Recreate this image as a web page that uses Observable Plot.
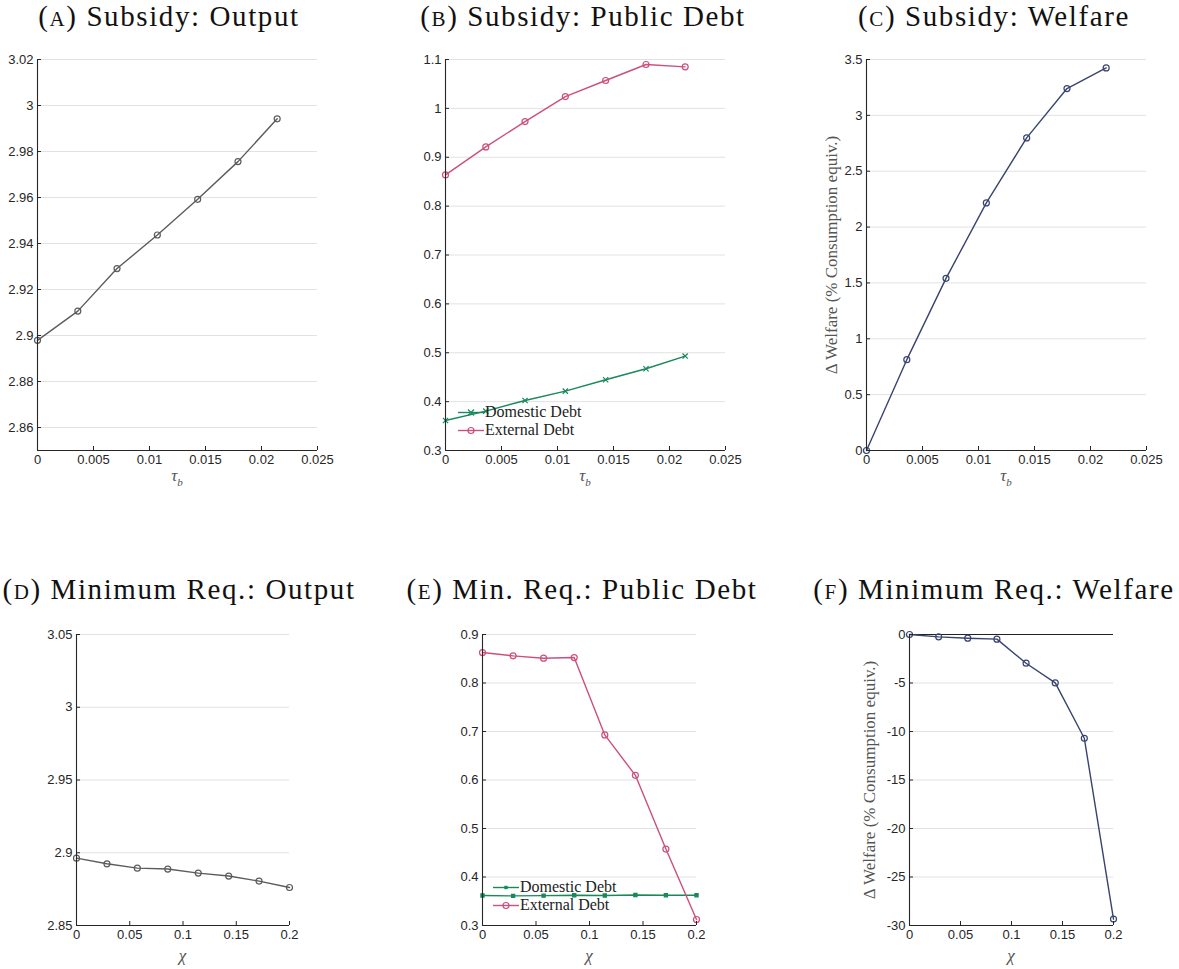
<!DOCTYPE html>
<html><head><meta charset="utf-8">
<script src="https://cdn.jsdelivr.net/npm/d3@7"></script>
<script src="https://cdn.jsdelivr.net/npm/@observablehq/plot@0.6"></script>
<style>
body{margin:0;background:#fff;}
#root{position:relative;width:1179px;height:969px;overflow:hidden;background:#fff;}
.title{position:absolute;font-family:"Liberation Serif",serif;font-size:29px;line-height:normal;letter-spacing:1.6px;color:#111;white-space:nowrap;text-align:center;width:420px;margin-left:-210px;}
.sc{font-size:21px;}
.xlab{position:absolute;font-family:"Liberation Serif",serif;font-style:italic;font-size:17px;color:#555;transform:translate(-50%,-50%);white-space:nowrap;}
.xlab sub{font-size:11px;}
.ylab{position:absolute;font-family:"Liberation Serif",serif;font-size:17px;color:#555;white-space:nowrap;transform:translate(-50%,-50%) rotate(-90deg);}
.plot{position:absolute;}
.legend{position:absolute;font-family:"Liberation Serif",serif;font-size:16px;color:#222;}
.legend .row{display:flex;align-items:center;height:18px;}
.legend svg{display:block;margin-right:1px;}
</style></head><body><div id="root"></div>
<script>
// ---- data ----
const tauB = [0, 0.0036, 0.0071, 0.0107, 0.0143, 0.0179, 0.0214];
const outputSubsidy = [2.8979, 2.9106, 2.9291, 2.9437, 2.9592, 2.9756, 2.9942];
const domDebtSubsidy = [0.3614, 0.3805, 0.4024, 0.4215, 0.4447, 0.4672, 0.4932];
const extDebtSubsidy = [0.8638, 0.9212, 0.9730, 1.0242, 1.0570, 1.0898, 1.0850];
const welfareSubsidy = [0, 0.813, 1.541, 2.216, 2.798, 3.240, 3.425];

const chi = [0, 0.0286, 0.0571, 0.0857, 0.1143, 0.1429, 0.1714, 0.2];
const outputMinReq = [2.8963, 2.8924, 2.8894, 2.8888, 2.8860, 2.8840, 2.8805, 2.8761];
const domDebtMinReq = [0.362, 0.361, 0.3615, 0.3625, 0.362, 0.363, 0.3625, 0.3625];
const extDebtMinReq = [0.8628, 0.8560, 0.8511, 0.8525, 0.6929, 0.6096, 0.4576, 0.3124];
const welfareMinReq = [0, -0.24, -0.38, -0.48, -2.96, -4.99, -10.70, -29.34];

// ---- ticks / domains ----
const xTicksTau = [0, 0.005, 0.01, 0.015, 0.02, 0.025];
const xTicksChi = [0, 0.05, 0.1, 0.15, 0.2];
const yTicksA = [2.86, 2.88, 2.9, 2.92, 2.94, 2.96, 2.98, 3, 3.02];
const yTicksB = [0.3, 0.4, 0.5, 0.6, 0.7, 0.8, 0.9, 1, 1.1];
const yTicksC = [0, 0.5, 1, 1.5, 2, 2.5, 3, 3.5];
const yTicksD = [2.85, 2.9, 2.95, 3, 3.05];
const yTicksE = [0.3, 0.4, 0.5, 0.6, 0.7, 0.8, 0.9];
const yTicksF = [-30, -25, -20, -15, -10, -5, 0];
const domA = [2.85, 3.02], domB = [0.3, 1.1], domC = [0, 3.5];
const domD = [2.85, 3.05], domE = [0.3, 0.9], domF = [-30, 0];
const domTau = [0, 0.025], domChi = [0, 0.2];

const titles = ["Subsidy: Output", "Subsidy: Public Debt", "Subsidy: Welfare",
  "Minimum Req.: Output", "Min. Req.: Public Debt", "Minimum Req.: Welfare"];
const letters = ["A", "B", "C", "D", "E", "F"];
const legendNames = ["Domestic Debt", "External Debt"];
const yLabel = "Δ Welfare (% Consumption equiv.)";

const GRAY = "#5c5c5c", PINK = "#cc4f7e", GREEN = "#18895a", NAVY = "#38446f";

const fmt = d => String(+d.toFixed(6));
const zipXY = (xs, ys) => xs.map((x, i) => ({x, y: ys[i]}));
const root = document.getElementById("root");

function panel(o) {
  const mL = 45, mR = 22, mT = 10, mB = 28;
  const w = o.right - o.left, h = o.bottom - o.top;
  const marks = [
    Plot.gridY(o.yTicks, {stroke: "#e2e2e2", strokeOpacity: 1, strokeWidth: 1})
  ];
  if (o.zeroRule) marks.push(Plot.ruleY([0], {stroke: "#222", strokeWidth: 1.1}));
  for (const s of o.series) {
    const data = zipXY(s.x, s.y);
    marks.push(Plot.line(data, {x: "x", y: "y", stroke: s.color, strokeWidth: 1.4}));
    marks.push(Plot.dot(data, {x: "x", y: "y", r: s.r || 3, symbol: s.symbol || "circle",
      stroke: s.color, strokeWidth: 1.2, fill: s.fill || "none"}));
  }
  marks.push(
    Plot.axisX(o.xTicks, {tickSize: -4, tickPadding: 8, tickFormat: fmt, label: null, stroke: "#262626", fill: "#262626"}),
    Plot.axisY(o.yTicks, {tickSize: -4, tickPadding: 8, tickFormat: fmt, label: null, stroke: "#262626", fill: "#262626"}),
    Plot.ruleX([o.xDomain[0]], {stroke: "#262626", strokeWidth: 1.1}),
    Plot.ruleY([o.yDomain[0]], {stroke: "#262626", strokeWidth: 1.1})
  );
  const svg = Plot.plot({
    width: w + mL + mR, height: h + mT + mB,
    marginLeft: mL, marginRight: mR, marginTop: mT, marginBottom: mB,
    x: {domain: o.xDomain, label: null},
    y: {domain: o.yDomain, label: null},
    style: {fontFamily: "'Liberation Sans', Arial, sans-serif", fontSize: "13px", background: "transparent", overflow: "visible"},
    marks
  });
  const div = document.createElement("div");
  div.className = "plot";
  div.style.left = (o.left - mL) + "px";
  div.style.top = (o.top - mT) + "px";
  div.appendChild(svg);
  root.appendChild(div);

  const t = document.createElement("div");
  t.className = "title";
  t.style.left = o.titleX + "px";
  t.style.top = o.titleY + "px";
  t.innerHTML = `(<span class="sc">${o.letter}</span>) ${o.title}`;
  root.appendChild(t);

  const xl = document.createElement("div");
  xl.className = "xlab";
  xl.style.left = ((o.left + o.right) / 2) + "px";
  xl.style.top = o.xlabY + "px";
  xl.innerHTML = o.xlab;
  root.appendChild(xl);

  if (o.ylab) {
    const yl = document.createElement("div");
    yl.className = "ylab";
    yl.style.left = o.ylabX + "px";
    yl.style.top = ((o.top + o.bottom) / 2) + "px";
    yl.textContent = o.ylab;
    root.appendChild(yl);
  }
  if (o.legend) {
    const lg = document.createElement("div");
    lg.className = "legend";
    lg.style.left = o.legend.x + "px";
    lg.style.top = o.legend.y + "px";
    lg.innerHTML = o.series.map((s, i) => {
      const sym = s.symbol === "times"
        ? `<path d="M10,3.5 L16,9.5 M16,3.5 L10,9.5" stroke="${s.color}" stroke-width="1.2"/>`
        : s.symbol === "square"
        ? `<rect x="11.3" y="4.8" width="3.4" height="3.4" fill="${s.color}"/>`
        : `<circle cx="13" cy="6.5" r="3" fill="none" stroke="${s.color}" stroke-width="1.2"/>`;
      return `<div class="row"><svg width="26" height="13"><line x1="0" x2="26" y1="6.5" y2="6.5" stroke="${s.color}" stroke-width="1.4"/>${sym}</svg><span>${legendNames[i]}</span></div>`;
    }).join("");
    root.appendChild(lg);
  }
}

const tauLab = "τ<sub>b</sub>", chiLab = "χ";

panel({letter: letters[0], title: titles[0], titleX: 169, titleY: 0,
  left: 37, right: 317, top: 59, bottom: 450, xDomain: domTau, yDomain: domA,
  xTicks: xTicksTau, yTicks: yTicksA, xlab: tauLab, xlabY: 477,
  series: [{x: tauB, y: outputSubsidy, color: GRAY}]});
panel({letter: letters[1], title: titles[1], titleX: 583, titleY: 0,
  left: 445, right: 725, top: 59, bottom: 450, xDomain: domTau, yDomain: domB,
  xTicks: xTicksTau, yTicks: yTicksB, xlab: tauLab, xlabY: 477,
  series: [{x: tauB, y: domDebtSubsidy, color: GREEN, symbol: "times", r: 2.5},
           {x: tauB, y: extDebtSubsidy, color: PINK}],
  legend: {x: 458, y: 403}});
panel({letter: letters[2], title: titles[2], titleX: 994, titleY: 0,
  left: 866, right: 1146, top: 59, bottom: 450, xDomain: domTau, yDomain: domC,
  xTicks: xTicksTau, yTicks: yTicksC, xlab: tauLab, xlabY: 477,
  ylab: yLabel, ylabX: 832,
  series: [{x: tauB, y: welfareSubsidy, color: NAVY}]});
panel({letter: letters[3], title: titles[3], titleX: 179, titleY: 573,
  left: 76, right: 289, top: 634, bottom: 925, xDomain: domChi, yDomain: domD,
  xTicks: xTicksChi, yTicks: yTicksD, xlab: chiLab, xlabY: 956,
  series: [{x: chi, y: outputMinReq, color: GRAY}]});
panel({letter: letters[4], title: titles[4], titleX: 582, titleY: 573,
  left: 482, right: 696, top: 634, bottom: 925, xDomain: domChi, yDomain: domE,
  xTicks: xTicksChi, yTicks: yTicksE, xlab: chiLab, xlabY: 956,
  series: [{x: chi, y: domDebtMinReq, color: GREEN, symbol: "square", r: 1.8, fill: GREEN},
           {x: chi, y: extDebtMinReq, color: PINK}],
  legend: {x: 493, y: 878}});
panel({letter: letters[5], title: titles[5], titleX: 994, titleY: 573,
  left: 909, right: 1113, top: 634, bottom: 925, xDomain: domChi, yDomain: domF,
  xTicks: xTicksChi, yTicks: yTicksF, xlab: chiLab, xlabY: 956,
  ylab: yLabel, ylabX: 870, zeroRule: true,
  series: [{x: chi, y: welfareMinReq, color: NAVY}]});
</script>
</body></html>
